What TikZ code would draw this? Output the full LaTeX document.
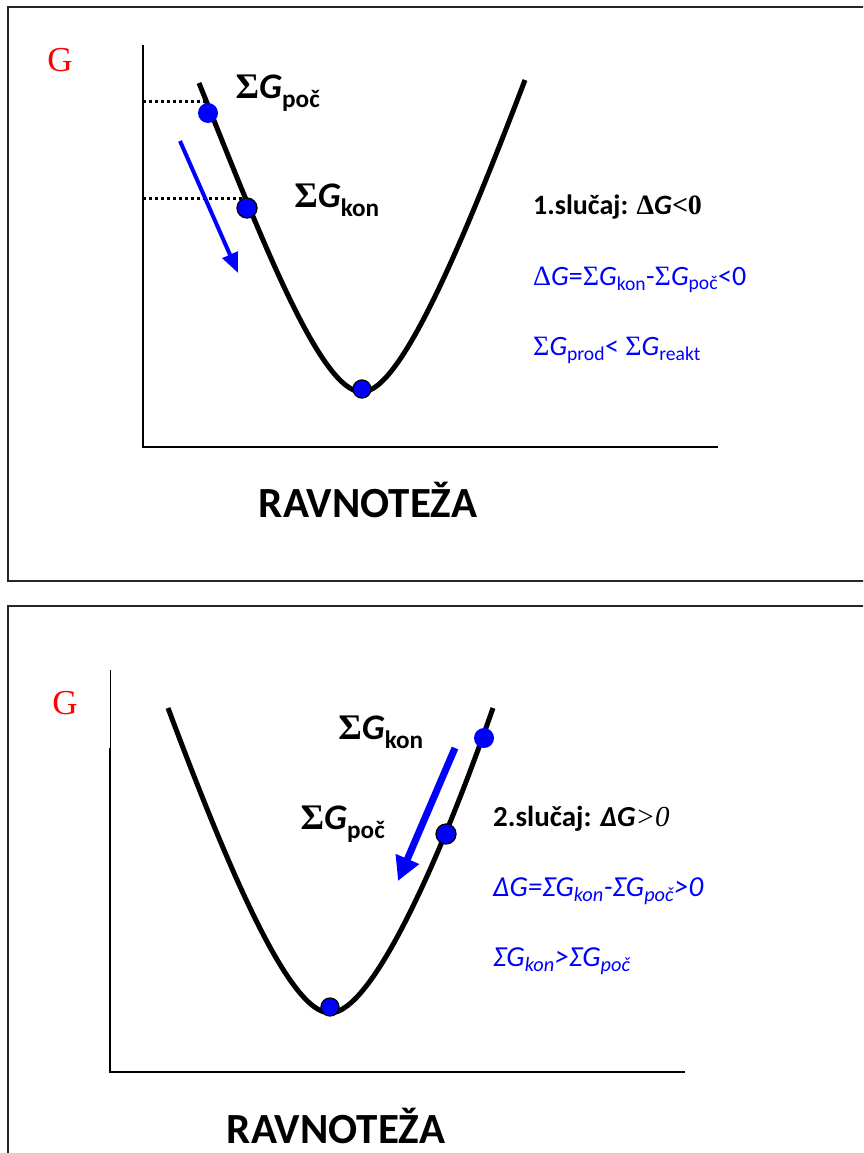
\documentclass[tikz,border=0pt]{standalone}
\usepackage{fontspec}
\setmainfont{Carlito}
\newfontfamily\symf{Liberation Serif}
\usetikzlibrary{arrows.meta,backgrounds}
\definecolor{ptblue}{HTML}{0000FF}
\definecolor{gred}{HTML}{FF0000}
\newcommand{\fs}[1]{\fontsize{#1}{#1}\selectfont}

\begin{document}
\begin{tikzpicture}[x=1pt, y=-1pt,
    frame/.style={draw=black!85, line width=1.6pt},
    axis/.style={line width=2pt},
    curve/.style={line width=5pt},
    guide/.style={line width=3pt, dash pattern=on 3pt off 3pt},
    pt/.style={circle, fill=ptblue, inner sep=0pt, minimum size=20pt},
    ptb/.style={pt, draw=black, line width=1.3pt},
    move/.style={-{Triangle[length=20pt, width=16pt]}, ptblue, line width=4pt},
    lbl/.style={font=\fs{36}\bfseries, inner sep=0pt},
    eq/.style={anchor=west, inner sep=0pt, font=\fs{28}},
    gl/.style={text=gred, font=\symf\fs{35}},
    title/.style={font=\fs{43}\bfseries, inner sep=0pt},
  ]
  \clip (0,0) rectangle (863,1153);

  % 1. slucaj
  \draw[frame] (870,7) -- (8,7) -- (8,581) -- (870,581);
  \draw[axis] (143,45) -- (143,447) -- (718,447);
  \node[gl] (g1) at (60,60) {G};
  \draw[curve] (199,83) .. controls (260,235) and (320,392) .. (362,392)
    .. controls (400,392) and (460,250) .. (525,80);
  \node[pt] (poc1) at (208,113) {};
  \node[ptb] (kon1) at (247,208) {};
  \node[ptb, minimum size=18pt] (min1) at (362,389) {};
  \coordinate (ypoc1) at (143,102);
  \coordinate (ykon1) at (143,198);
  \begin{scope}[on background layer]
    \draw[guide] (ypoc1) -- (ypoc1 -| poc1.center);
    \draw[guide] (ykon1) -- (ykon1 -| kon1.center);
  \end{scope}
  \node[lbl] (lpoc1) at (278,93) {{\symf Σ}\textit{G}\textsubscript{poč}};
  \node[lbl] (lkon1) at (337,200) {{\symf Σ}\textit{G}\textsubscript{kon}};
  \coordinate (m1s) at (180,141);
  \coordinate (m1e) at (238,273);
  \draw[move] (m1s) -- (m1e);
  \node[eq, font=\fs{28}\bfseries] (case1) at (533,207)
    {1.slučaj: {\symf Δ}\textit{G}{\symf <0}};
  \node[eq, text=ptblue] (eq1) at (533,280)
    {{\symf Δ}\textit{G}={\symf Σ}\textit{G}\textsubscript{kon}-{\symf Σ}\textit{G}\textsubscript{poč}<0};
  \node[eq, text=ptblue] (eq2) at (533,350)
    {{\symf Σ}\textit{G}\textsubscript{prod}< {\symf Σ}\textit{G}\textsubscript{reakt}};
  \node[title] (rav1) at (368,500) {RAVNOTEŽA};

  % 2. slucaj
  \draw[frame] (870,606) -- (8,606) -- (8,1160);
  \draw[line width=1pt] (110,670) -- (110,748);
  \draw[axis] (110,748) -- (110,1072) -- (685,1072);
  \node[gl] (g2) at (65,703) {G};
  \draw[curve] (168,708) .. controls (225,860) and (288,1013) .. (330,1013)
    .. controls (372,1013) and (440,860) .. (493,708);
  \node[pt] (kon2) at (484,738) {};
  \node[ptb] (poc2) at (446,834) {};
  \node[ptb, minimum size=18pt] (min2) at (330,1007) {};
  \node[lbl] (lkon2) at (381,732) {{\symf Σ}\textit{G}\textsubscript{kon}};
  \node[lbl] (lpoc2) at (343,824) {{\symf Σ}\textit{G}\textsubscript{poč}};
  \coordinate (m2s) at (455,748);
  \coordinate (m2e) at (398,881);
  \draw[move, line width=7pt, -{Triangle[length=24pt, width=24pt]}] (m2s) -- (m2e);
  \node[eq, font=\fs{29}] (case2) at (493,819)
    {\textbf{2.slučaj: \textit{ΔG}}{\symf\itshape >0}};
  \node[eq, text=ptblue, font=\fs{29}\itshape] (eq3) at (493,891)
    {ΔG=ΣG\textsubscript{kon}-ΣG\textsubscript{poč}>0};
  \node[eq, text=ptblue, font=\fs{29}\itshape] (eq4) at (493,961)
    {ΣG\textsubscript{kon}>ΣG\textsubscript{poč}};
  \node[title] (rav2) at (336,1126) {RAVNOTEŽA};
\end{tikzpicture}
\end{document}
